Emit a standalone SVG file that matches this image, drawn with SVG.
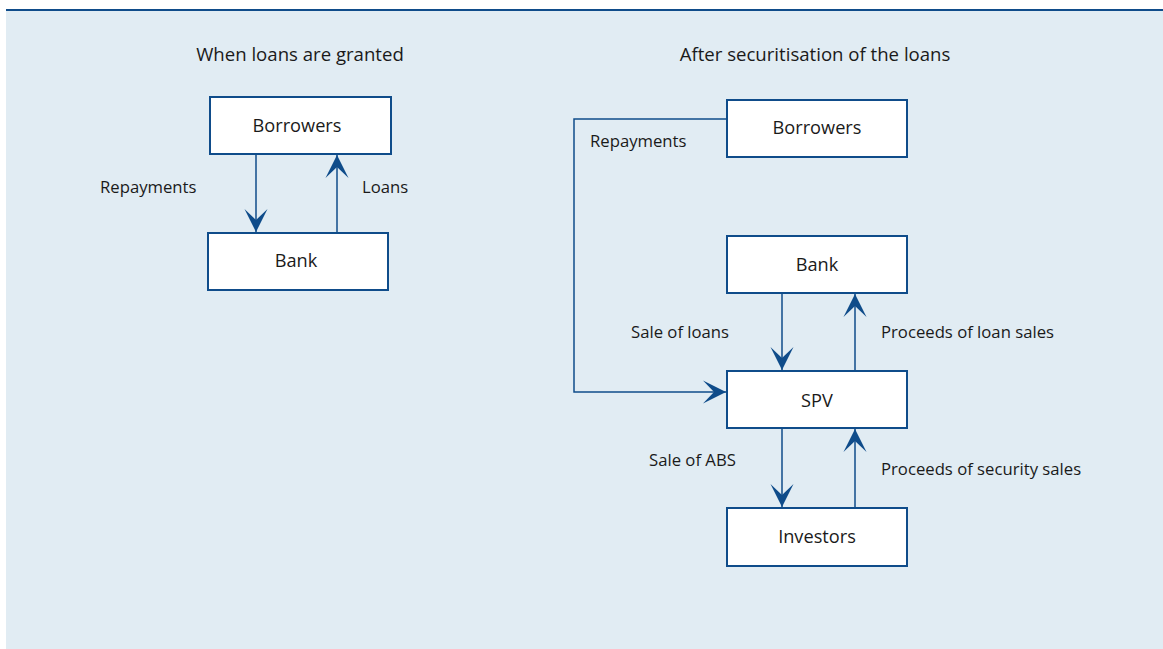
<svg xmlns="http://www.w3.org/2000/svg" width="1163" height="649" viewBox="0 0 1163 649">
<style>
.box{fill:#ffffff;stroke:#0f4c8a;stroke-width:2}
.ln{fill:none;stroke:#0f4c8a;stroke-width:1.5}
text{font-family:"Open Sans","Noto Sans",sans-serif;font-size:16.7px;fill:#1a1a1a}
.c{text-anchor:middle}
.t{font-size:18.6px}
.b{font-size:18.2px}
</style>
<defs>
<marker id="ah" viewBox="-24 -12 26 24" refX="0" refY="0" markerWidth="26" markerHeight="24" markerUnits="userSpaceOnUse" orient="auto">
<path d="M0,0 L-23,-11.5 L-12,0 L-23,11.5 Z" fill="#0f4c8a"/>
</marker>
</defs>
<rect x="0" y="0" width="1163" height="649" fill="#ffffff"/>
<rect x="6" y="10" width="1157" height="639" fill="#e1ecf3"/>
<rect x="6" y="9" width="1157" height="2" fill="#0f4c8a"/>
<text class="c t" x="300" y="61">When loans are granted</text>
<text class="c t" x="815" y="61">After securitisation of the loans</text>
<g id="connectors">
<line class="ln" x1="256" y1="155" x2="256" y2="232" marker-end="url(#ah)"/>
<line class="ln" x1="337" y1="232" x2="337" y2="155" marker-end="url(#ah)"/>
<polyline class="ln" points="727,119 574,119 574,392 726,392" marker-end="url(#ah)"/>
<line class="ln" x1="782" y1="294" x2="782" y2="370" marker-end="url(#ah)"/>
<line class="ln" x1="855" y1="370" x2="855" y2="294" marker-end="url(#ah)"/>
<line class="ln" x1="782" y1="429" x2="782" y2="507" marker-end="url(#ah)"/>
<line class="ln" x1="855" y1="507" x2="855" y2="429" marker-end="url(#ah)"/>
<text x="100" y="193">Repayments</text>
<text x="362" y="193">Loans</text>
<text x="590" y="147">Repayments</text>
<text x="631" y="338">Sale of loans</text>
<text x="881" y="338">Proceeds of loan sales</text>
<text x="649" y="466">Sale of ABS</text>
<text x="881" y="475">Proceeds of security sales</text>
</g>
<g id="n-borrowers1"><rect class="box" x="210" y="97" width="181" height="57"/><text class="c b" x="297" y="132">Borrowers</text></g>
<g id="n-bank1"><rect class="box" x="208" y="233" width="180" height="57"/><text class="c b" x="296" y="267">Bank</text></g>
<g id="n-borrowers2"><rect class="box" x="727" y="100" width="180" height="57"/><text class="c b" x="817" y="134">Borrowers</text></g>
<g id="n-bank2"><rect class="box" x="727" y="236" width="180" height="57"/><text class="c b" x="817" y="271">Bank</text></g>
<g id="n-spv"><rect class="box" x="727" y="371" width="180" height="57"/><text class="c b" x="817" y="407">SPV</text></g>
<g id="n-investors"><rect class="box" x="727" y="508" width="180" height="58"/><text class="c b" x="817" y="543">Investors</text></g>
</svg>
